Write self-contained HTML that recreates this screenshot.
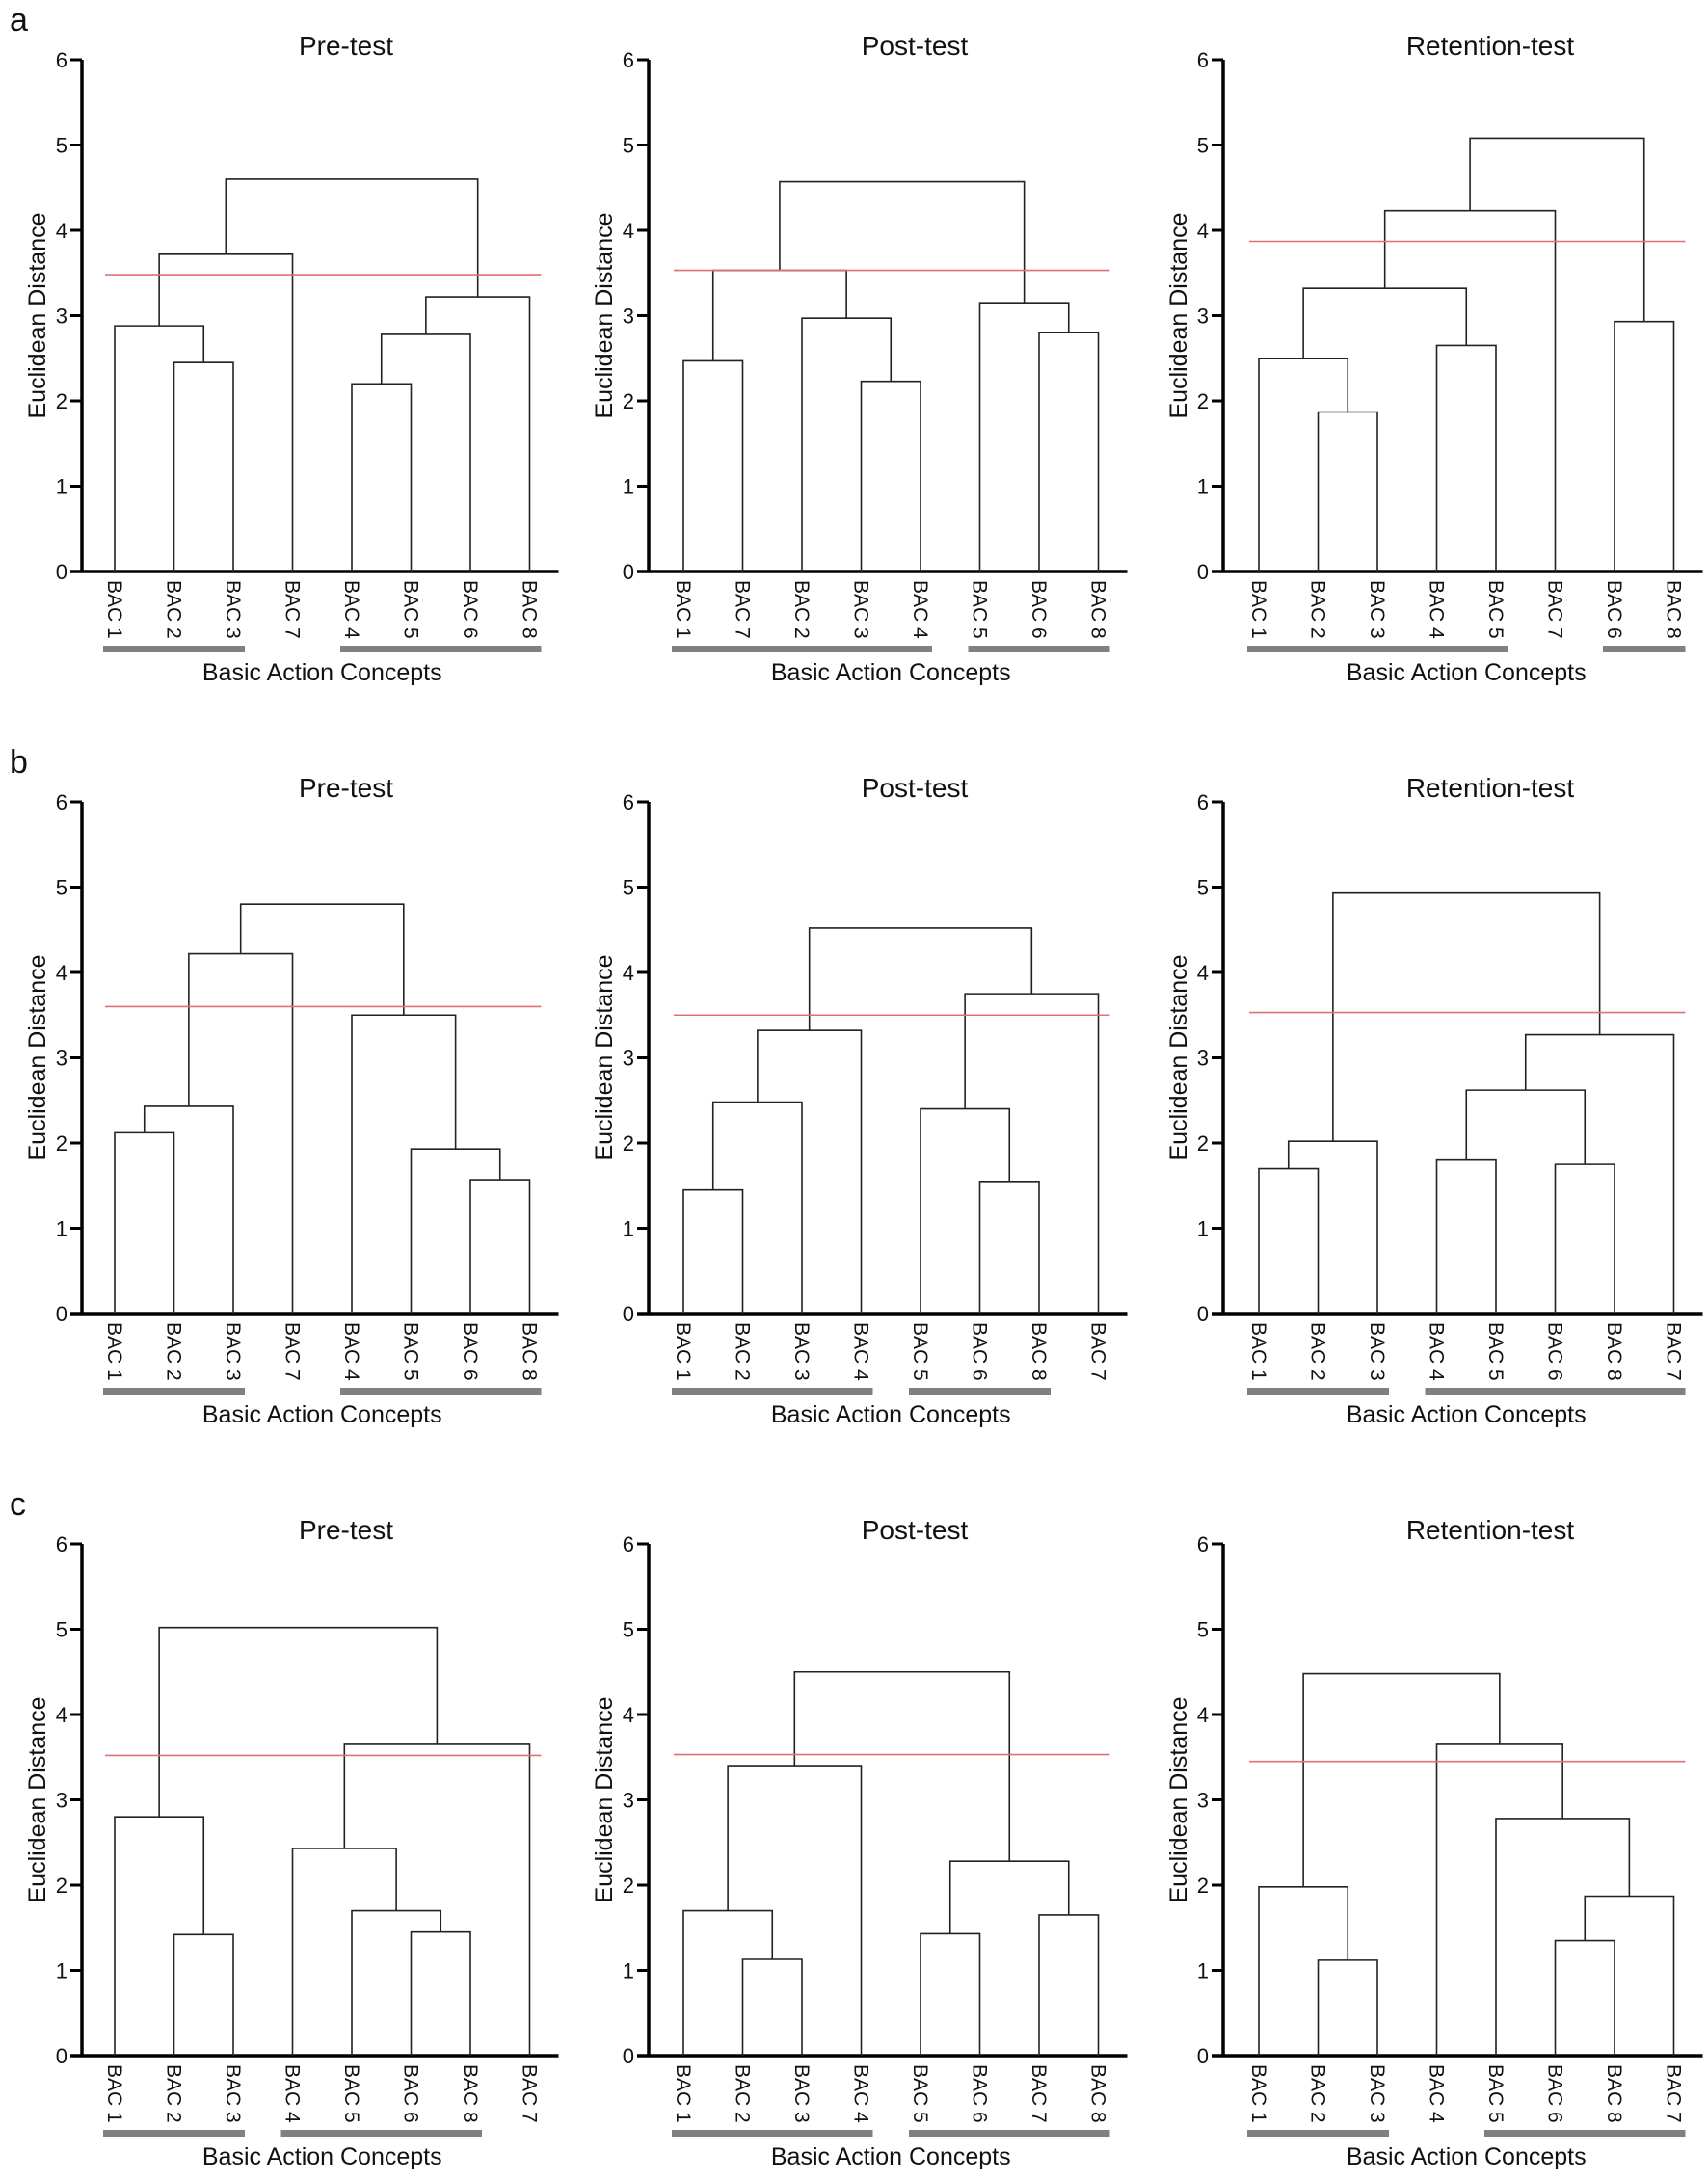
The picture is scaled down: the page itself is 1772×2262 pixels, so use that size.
<!DOCTYPE html>
<html><head><meta charset="utf-8"><style>
body{margin:0;background:#fff}
svg text{font-family:"Liberation Sans",sans-serif;fill:#111}
</style></head><body>
<svg id="fig" width="1772" height="2257" xmlns="http://www.w3.org/2000/svg"></svg>
<script>
const orders = [
 ["1","2","3","7","4","5","6","8"],["1","7","2","3","4","5","6","8"],["1","2","3","4","5","7","6","8"],
 ["1","2","3","7","4","5","6","8"],["1","2","3","4","5","6","8","7"],["1","2","3","4","5","6","8","7"],
 ["1","2","3","4","5","6","8","7"],["1","2","3","4","5","6","7","8"],["1","2","3","4","5","6","8","7"]];
const merges = [
 [["p1","p2",2.45],["p0","m0",2.88],["m1","p3",3.72],["p4","p5",2.2],["m3","p6",2.78],["m4","p7",3.22],["m2","m5",4.6]],
 [["p0","p1",2.47],["p3","p4",2.23],["p2","m1",2.97],["m0","m2",3.53],["p6","p7",2.8],["p5","m4",3.15],["m3","m5",4.57]],
 [["p1","p2",1.87],["p0","m0",2.5],["p3","p4",2.65],["m1","m2",3.32],["m3","p5",4.23],["p6","p7",2.93],["m4","m5",5.08]],
 [["p0","p1",2.12],["m0","p2",2.43],["m1","p3",4.22],["p6","p7",1.57],["p5","m3",1.93],["p4","m4",3.5],["m2","m5",4.8]],
 [["p0","p1",1.45],["m0","p2",2.48],["m1","p3",3.32],["p5","p6",1.55],["p4","m3",2.4],["m4","p7",3.75],["m2","m5",4.52]],
 [["p0","p1",1.7],["m0","p2",2.02],["p3","p4",1.8],["p5","p6",1.75],["m2","m3",2.62],["m4","p7",3.27],["m1","m5",4.93]],
 [["p1","p2",1.42],["p0","m0",2.8],["p5","p6",1.45],["p4","m2",1.7],["p3","m3",2.43],["m4","p7",3.65],["m1","m5",5.02]],
 [["p1","p2",1.13],["p0","m0",1.7],["m1","p3",3.4],["p4","p5",1.43],["p6","p7",1.65],["m3","m4",2.28],["m2","m5",4.5]],
 [["p1","p2",1.12],["p0","m0",1.98],["p5","p6",1.35],["m2","p7",1.87],["p4","m3",2.78],["p3","m4",3.65],["m1","m5",4.48]]];
const cutoffs = [3.48,3.53,3.87,3.6,3.5,3.53,3.52,3.53,3.45];
const groups = [[[0,2],[4,7]],[[0,4],[5,7]],[[0,4],[6,7]],[[0,2],[4,7]],[[0,3],[4,6]],[[0,2],[3,7]],[[0,2],[3,6]],[[0,3],[4,7]],[[0,2],[4,7]]];
const titles = ["Pre-test","Post-test","Retention-test"];
const yTicks = [0,1,2,3,4,5,6];
const rowLetters = ["a","b","c"];

const svg=document.getElementById('fig');
const NS="http://www.w3.org/2000/svg";
function mk(tag,attrs,parent){const e=document.createElementNS(NS,tag);for(const k in attrs)e.setAttribute(k,attrs[k]);(parent||svg).appendChild(e);return e;}
const axisX=[85,673,1269], firstLeaf=[119,709,1306], spacing=61.5, unit=88.5;

rowLetters.forEach((l,r)=>{
  const t=mk('text',{x:10,y:32+770*r,'font-size':34});
  t.textContent=l;
  
  
});

for(let i=0;i<9;i++){
  const r=Math.floor(i/3), c=i%3;
  const g=mk('g',{});
  
  
  const y0=593+770*r;
  const Y=v=>y0-v*unit;
  const X=p=>firstLeaf[c]+p*spacing;
  const ax=axisX[c], xEnd=X(7)+30;
  const tt=mk('text',{x:firstLeaf[c]+240,y:Y(6)-5,'font-size':28,'text-anchor':'middle'},g);
  tt.textContent=titles[c];
  
  
  const ya=mk('line',{x1:ax,y1:Y(6),x2:ax,y2:y0+1.5,stroke:'#000','stroke-width':3.5},g);
  
  
  const xa=mk('line',{x1:ax-12,y1:y0,x2:xEnd,y2:y0,stroke:'#000','stroke-width':3.5},g);
  
  
  yTicks.forEach(v=>{
    mk('line',{x1:ax-12,y1:Y(v),x2:ax,y2:Y(v),stroke:'#000','stroke-width':3},g);
    const tl=mk('text',{x:ax-15,y:Y(v)+8,'font-size':22,'text-anchor':'end'},g);
    tl.textContent=v;
    
    
  });
  const yt=mk('text',{x:0,y:0,'font-size':25,'text-anchor':'middle',transform:`translate(${ax-38},${Y(3)}) rotate(-90)`},g);
  yt.textContent='Euclidean Distance';
  
  
  const pos={};
  orders[i].forEach((o,p)=>{pos['p'+p]={x:X(p),h:0};
    const lb=mk('text',{x:0,y:0,'font-size':21,transform:`translate(${X(p)-7},${y0+9}) rotate(90)`},g);
    lb.textContent='BAC '+o;
    
    
  });
  merges[i].forEach((m,k)=>{
    const a=pos[m[0]], b=pos[m[1]], h=m[2];
    const pth=mk('path',{d:`M${a.x},${Y(a.h)}V${Y(h)}H${b.x}V${Y(b.h)}`,fill:'none',stroke:'#222','stroke-width':1.6},g);
    
    
    pos['m'+k]={x:(a.x+b.x)/2,h:h};
  });
  const rl=mk('line',{x1:X(0)-10,y1:Y(cutoffs[i]),x2:X(7)+12,y2:Y(cutoffs[i]),stroke:'#e07070','stroke-width':1.6},g);
  
  
  groups[i].forEach(gr=>{
    const br=mk('rect',{x:X(gr[0])-12,y:y0+77,width:X(gr[1])-X(gr[0])+24,height:7,fill:'#808080'},g);
    
    
  });
  const xt=mk('text',{x:X(3.5),y:y0+113,'font-size':25,'text-anchor':'middle'},g);
  xt.textContent='Basic Action Concepts';
  
  
}
</script>
</body></html>
